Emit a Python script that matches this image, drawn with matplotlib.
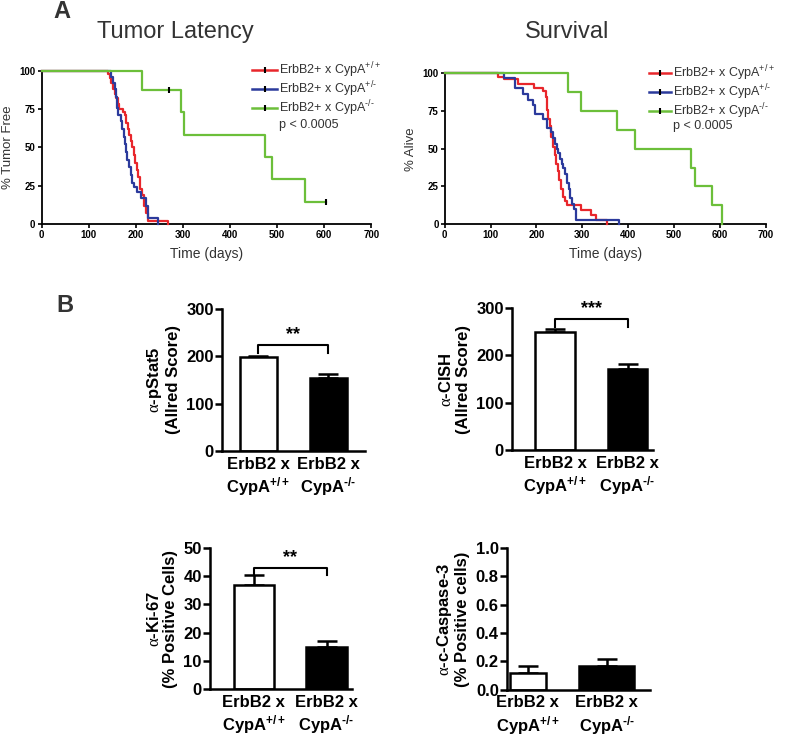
import matplotlib
matplotlib.use('Agg')
import matplotlib.pyplot as plt
import numpy as np

plt.rcParams['font.family'] = ['Liberation Sans', 'DejaVu Sans']
plt.rcParams['mathtext.fontset'] = 'custom'
plt.rcParams['mathtext.rm'] = 'Liberation Sans'
plt.rcParams['mathtext.bf'] = 'Liberation Sans:bold'
plt.rcParams['mathtext.sf'] = 'Liberation Serif'
plt.rcParams['mathtext.default'] = 'regular'

# ---- Kaplan-Meier data (time in days, % remaining after each step) ----
lat_red_t = [0, 140, 145, 148, 152, 155, 158, 162, 165, 172, 178, 180, 183, 186, 190, 193,
             196, 199, 202, 205, 208, 210, 213, 218, 222, 226, 268]
lat_red_v = [100, 98, 95, 92, 88, 85, 82, 78, 75, 73, 71, 66, 62, 58, 54, 50,
             45, 40, 35, 31, 27, 23, 19, 12, 7, 2, 0]
lat_blue_t = [0, 148, 152, 155, 158, 160, 162, 168, 171, 174, 177, 180, 182, 186, 189, 192,
              196, 202, 212, 222, 226, 248]
lat_blue_v = [100, 96, 92, 88, 83, 76, 71, 67, 62, 57, 52, 47, 42, 37, 32, 27,
              24, 21, 17, 12, 4, 0]
lat_green_t = [0, 213, 295, 303, 474, 490, 560, 605]
lat_green_v = [100, 87.5, 72.9, 58.3, 43.75, 29.2, 14.6, 14.6]
lat_green_cens_t = [270, 605]
lat_green_cens_v = [87.5, 14.6]

surv_red_t = [0, 115, 130, 160, 195, 215, 220, 223, 226, 229, 232, 236, 240, 243, 246, 249,
              253, 257, 262, 267, 298, 320, 330, 353]
surv_red_v = [100, 97.5, 96, 93, 90.5, 88, 84, 76, 70, 65, 58, 51, 46, 40, 35, 29,
              23, 18, 15, 12.5, 9, 6, 3, 0]
surv_blue_t = [0, 130, 153, 171, 182, 193, 196, 215, 222, 232, 236, 240, 245, 248, 252, 256,
               258, 262, 266, 270, 274, 278, 283, 287, 380]
surv_blue_v = [100, 97, 90, 86, 82, 79, 73, 70, 64, 61, 57, 53, 50, 47, 43, 40,
               37, 33, 27, 23, 17, 13, 10, 3, 0]
surv_green_t = [0, 268, 297, 375, 415, 538, 545, 582, 605]
surv_green_v = [100, 87.5, 75, 62.5, 50, 37.5, 25, 12.5, 0]

HY = '\u2010'
km_labels = ['ErbB2+ x CypA$^{+/+}$', 'ErbB2+ x CypA$^{+/' + HY + '}$',
             'ErbB2+ x CypA$^{' + HY + '/' + HY + '}$']
km_colors = ['#e8262b', '#2b3a9c', '#6cbf3a']
p_text = 'p < 0.0005'

# ---- bar chart data ----
bar_groups = ['ErbB2 x\nCypA$^{+/+}$', 'ErbB2 x\nCypA$^{' + HY + '/' + HY + '}$']
pstat5_mean = [198, 155]
pstat5_err = [3, 8]
cish_mean = [250, 172]
cish_err = [5, 10]
ki67_mean = [37, 15]
ki67_err = [3.5, 2]
casp3_mean = [0.12, 0.17]
casp3_err = [0.05, 0.05]

fig = plt.figure(figsize=(8, 7.37), dpi=100)


def km_panel(ax, curves, ylabel, leg_x, leg_y, p_y):
    for (t, v), c in zip(curves, km_colors):
        ax.step(t, v, where='post', color=c, lw=1.6, clip_on=False, zorder=3)
    ax.set_xlim(0, 700)
    ax.set_ylim(0, 100)
    ax.set_xticks(range(0, 701, 100))
    ax.set_yticks([0, 25, 50, 75, 100])
    for s in ['top', 'right']:
        ax.spines[s].set_visible(False)
    for s in ['left', 'bottom']:
        ax.spines[s].set_linewidth(1.3)
    ax.tick_params(direction='out', length=3, width=1.2, labelsize=7, pad=1.5)
    for lab in ax.get_xticklabels() + ax.get_yticklabels():
        lab.set_fontweight('bold')
    ax.set_xlabel('Time (days)', fontsize=10, color='#333333', labelpad=5)
    ax.set_ylabel(ylabel, fontsize=9.5, color='#333333', labelpad=4)
    # hand-placed legend: line sample with censor tick, then label
    x0, x1 = leg_x
    for i, (lab, c) in enumerate(zip(km_labels, km_colors)):
        y = leg_y[i]
        ax.plot([x0, x1], [y, y], color=c, lw=1.8, transform=ax.transAxes, clip_on=False)
        ax.plot([(x0 + x1) / 2], [y], marker='|', color='black', ms=5, mew=1.5,
                transform=ax.transAxes, clip_on=False)
        ax.text(x1 + 0.005, y - 0.028, lab, transform=ax.transAxes, fontsize=9,
                color='#333333', va='baseline', ha='left')
    ax.text(x1 + 0.005, p_y, p_text, transform=ax.transAxes, fontsize=9,
            color='#333333', va='baseline', ha='left')


ax1 = fig.add_axes([0.052, 0.696, 0.412, 0.208])
km_panel(ax1, [(lat_red_t, lat_red_v), (lat_blue_t, lat_blue_v), (lat_green_t, lat_green_v)],
         '% Tumor Free', (0.639, 0.7145), [1.005, 0.88, 0.757], 0.626)
ax1.plot(lat_green_cens_t, lat_green_cens_v, ls='none', marker='|', color='black',
         ms=5, mew=1.5, clip_on=False, zorder=4)

ax2 = fig.add_axes([0.556, 0.696, 0.401, 0.2045])
km_panel(ax2, [(surv_red_t, surv_red_v), (surv_blue_t, surv_blue_v), (surv_green_t, surv_green_v)],
         '% Alive', (0.636, 0.705), [1.004, 0.878, 0.752], 0.628)

fig.text(175 / 800, 1 - 32 / 737, 'Tumor Latency', fontsize=17, color='#333333',
         ha='center', va='center')
fig.text(567 / 800, 1 - 32 / 737, 'Survival', fontsize=17, color='#333333',
         ha='center', va='center')
fig.text(0.078, 0.985, 'A', fontsize=17, fontweight='bold', color='#333333', ha='center', va='center')
fig.text(0.081, 0.585, 'B', fontsize=17, fontweight='bold', color='#333333', ha='center', va='center')


def bar_panel(rect, means, errs, yticks, ylabel, xlim, widths, stars=None, bracket_y=None,
              tick_fmt='{:g}'):
    ax = fig.add_axes(rect)
    x = [0, 1]
    ax.bar(x, means, width=widths, color=['white', 'black'], edgecolor='black',
           linewidth=1.8, zorder=2)
    ax.errorbar(x, means, yerr=[[0, 0], errs], fmt='none', ecolor='black',
                elinewidth=1.8, capsize=7, capthick=1.8, zorder=1)
    ax.set_xlim(*xlim)
    ax.set_ylim(yticks[0], yticks[-1])
    ax.set_yticks(yticks)
    ax.set_yticklabels([tick_fmt.format(v) for v in yticks])
    ax.set_xticks(x)
    ax.set_xticklabels(bar_groups)
    for s in ['top', 'right']:
        ax.spines[s].set_visible(False)
    for s in ['left', 'bottom']:
        ax.spines[s].set_linewidth(1.8)
    ax.tick_params(axis='y', direction='out', length=5, width=1.8, labelsize=12, pad=1)
    ax.tick_params(axis='x', length=0, labelsize=12, pad=4)
    for lab in ax.get_xticklabels() + ax.get_yticklabels():
        lab.set_fontweight('bold')
    ax.set_ylabel(ylabel, fontsize=12, fontweight='bold', labelpad=4, linespacing=1.1)
    if stars:
        span = yticks[-1] - yticks[0]
        tick = span * 0.055
        ax.plot([0, 0, 1, 1], [bracket_y - tick, bracket_y, bracket_y, bracket_y - tick],
                color='black', lw=1.5, clip_on=False)
        ax.text(0.5, bracket_y + span * 0.01, stars, ha='center', va='bottom',
                fontsize=13, fontweight='bold')
    return ax


bar_panel([0.2775, 0.388, 0.1785, 0.193], pstat5_mean, pstat5_err, [0, 100, 200, 300],
          r'$\mathsf{\alpha}$-pStat5' + '\n(Allred Score)', (-0.52, 1.52), 0.53,
          stars='**', bracket_y=224)
bar_panel([0.64, 0.389, 0.176, 0.193], cish_mean, cish_err, [0, 100, 200, 300],
          r'$\mathsf{\alpha}$-CISH' + '\n(Allred Score)', (-0.6, 1.35), 0.55,
          stars='***', bracket_y=277)
bar_panel([0.2625, 0.065, 0.1775, 0.1915], ki67_mean, ki67_err, [0, 10, 20, 30, 40, 50],
          r'$\mathsf{\alpha}$-Ki-67' + '\n(% Positive Cells)', (-0.6, 1.35), 0.55,
          stars='**', bracket_y=43)
bar_panel([0.634, 0.064, 0.1785, 0.1927], casp3_mean, casp3_err, [0.0, 0.2, 0.4, 0.6, 0.8, 1.0],
          r'$\mathsf{\alpha}$-c-Caspase-3' + '\n(% Positive cells)', (-0.26, 1.55), [0.46, 0.7],
          tick_fmt='{:.1f}')

fig.savefig('out.png', dpi=100, facecolor='white')
